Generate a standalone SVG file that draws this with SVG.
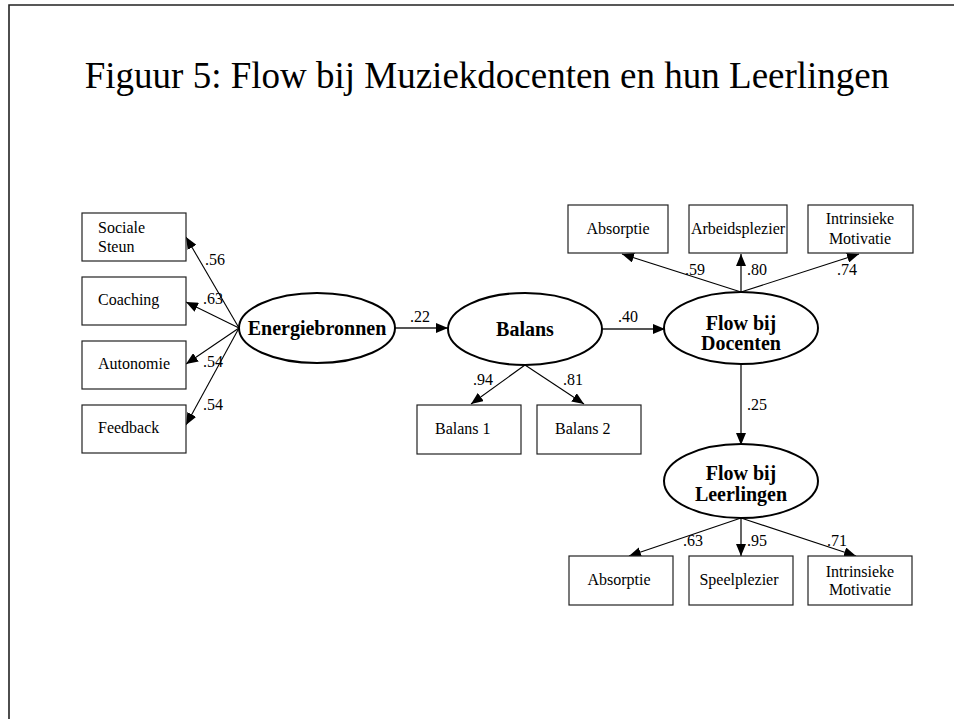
<svg xmlns="http://www.w3.org/2000/svg" width="954" height="719" viewBox="0 0 954 719">
<style>
text{font-family:"Liberation Serif","Times New Roman",serif;fill:#000}
.title{font-size:37px}
.box{fill:#fff;stroke:#222;stroke-width:1.2}
.ell{fill:#fff;stroke:#000;stroke-width:2}
.bt{font-size:16px}
.et{font-size:20px;font-weight:bold;text-anchor:middle}
.lbl{font-size:16px}
.c{text-anchor:middle}
.ln{stroke:#000;stroke-width:1.1;fill:none;marker-end:url(#ah)}
.lh{stroke:#555;stroke-width:1.8;fill:none;marker-end:url(#ah)}
</style>
<defs>
<marker id="ah" markerUnits="userSpaceOnUse" markerWidth="12" markerHeight="10" viewBox="0 0 12 10" refX="12" refY="5" orient="auto">
<path d="M0,0 L12,5 L0,10 z" fill="#000"/>
</marker>
</defs>
<rect width="954" height="719" fill="#fff"/>
<path d="M9,719 V5 H954" fill="none" stroke="#222" stroke-width="1.6"/>
<text class="title" x="487" y="88" text-anchor="middle">Figuur 5: Flow bij Muziekdocenten en hun Leerlingen</text>

<g id="connectors">
<line class="ln" x1="239" y1="328" x2="186" y2="237"/>
<line class="ln" x1="239" y1="328" x2="186" y2="302"/>
<line class="ln" x1="239" y1="328" x2="186" y2="364"/>
<line class="ln" x1="239" y1="328" x2="186" y2="425"/>
<line class="lh" x1="395" y1="328" x2="448" y2="328"/>
<line class="lh" x1="602" y1="329" x2="665" y2="329"/>
<line class="ln" x1="525" y1="365" x2="471" y2="404"/>
<line class="ln" x1="525" y1="365" x2="584" y2="404"/>
<line class="ln" x1="741" y1="292" x2="622" y2="254"/>
<line class="lh" x1="741" y1="292" x2="741" y2="254"/>
<line class="ln" x1="741" y1="292" x2="859" y2="254"/>
<line class="lh" x1="741" y1="365" x2="741" y2="445"/>
<line class="ln" x1="741" y1="518" x2="629" y2="556"/>
<line class="lh" x1="741" y1="518" x2="741" y2="556"/>
<line class="ln" x1="741" y1="518" x2="856" y2="556"/>
<text class="lbl" x="205" y="265">.56</text>
<text class="lbl" x="203" y="304">.63</text>
<text class="lbl" x="203" y="367">.54</text>
<text class="lbl" x="203" y="410">.54</text>
<text class="lbl" x="410" y="322">.22</text>
<text class="lbl" x="618" y="322">.40</text>
<text class="lbl" x="473" y="385">.94</text>
<text class="lbl" x="563" y="385">.81</text>
<text class="lbl" x="685" y="275">.59</text>
<text class="lbl" x="747" y="275">.80</text>
<text class="lbl" x="837" y="275">.74</text>
<text class="lbl" x="747" y="410">.25</text>
<text class="lbl" x="683" y="546">.63</text>
<text class="lbl" x="747" y="546">.95</text>
<text class="lbl" x="827" y="546">.71</text>
</g>

<g id="sociale-steun">
<rect class="box" x="82" y="213" width="104" height="48"/>
<text class="bt" x="98" y="233">Sociale</text>
<text class="bt" x="98" y="252">Steun</text>
</g>
<g id="coaching">
<rect class="box" x="82" y="277" width="104" height="48"/>
<text class="bt" x="98" y="305">Coaching</text>
</g>
<g id="autonomie">
<rect class="box" x="82" y="341" width="104" height="48"/>
<text class="bt" x="98" y="369">Autonomie</text>
</g>
<g id="feedback">
<rect class="box" x="82" y="405" width="104" height="48"/>
<text class="bt" x="98" y="433">Feedback</text>
</g>

<g id="energiebronnen">
<ellipse class="ell" cx="317" cy="328" rx="78" ry="35"/>
<text class="et" x="317" y="335">Energiebronnen</text>
</g>
<g id="balans">
<ellipse class="ell" cx="525" cy="329" rx="77" ry="36"/>
<text class="et" x="525" y="336">Balans</text>
</g>
<g id="balans1">
<rect class="box" x="417" y="405" width="104" height="49"/>
<text class="bt" x="435" y="434">Balans 1</text>
</g>
<g id="balans2">
<rect class="box" x="537" y="405" width="104" height="49"/>
<text class="bt" x="555" y="434">Balans 2</text>
</g>

<g id="flow-docenten">
<ellipse class="ell" cx="741" cy="328" rx="77" ry="36"/>
<text class="et" x="741" y="330">Flow bij</text>
<text class="et" x="741" y="350">Docenten</text>
</g>
<g id="absorptie-d">
<rect class="box" x="568" y="205" width="100" height="48"/>
<text class="bt c" x="618" y="234">Absorptie</text>
</g>
<g id="arbeidsplezier">
<rect class="box" x="689" y="205" width="98" height="48"/>
<text class="bt c" x="738" y="234">Arbeidsplezier</text>
</g>
<g id="intrinsieke-d">
<rect class="box" x="808" y="205" width="105" height="48"/>
<text class="bt c" x="860" y="224">Intrinsieke</text>
<text class="bt c" x="860" y="244">Motivatie</text>
</g>

<g id="flow-leerlingen">
<ellipse class="ell" cx="741" cy="481" rx="77" ry="37"/>
<text class="et" x="741" y="480">Flow bij</text>
<text class="et" x="741" y="501">Leerlingen</text>
</g>
<g id="absorptie-l">
<rect class="box" x="569" y="556" width="104" height="49"/>
<text class="bt c" x="619" y="585">Absorptie</text>
</g>
<g id="speelplezier">
<rect class="box" x="689" y="556" width="104" height="49"/>
<text class="bt c" x="739" y="585">Speelplezier</text>
</g>
<g id="intrinsieke-l">
<rect class="box" x="808" y="556" width="104" height="49"/>
<text class="bt c" x="860" y="577">Intrinsieke</text>
<text class="bt c" x="860" y="595">Motivatie</text>
</g>
</svg>
